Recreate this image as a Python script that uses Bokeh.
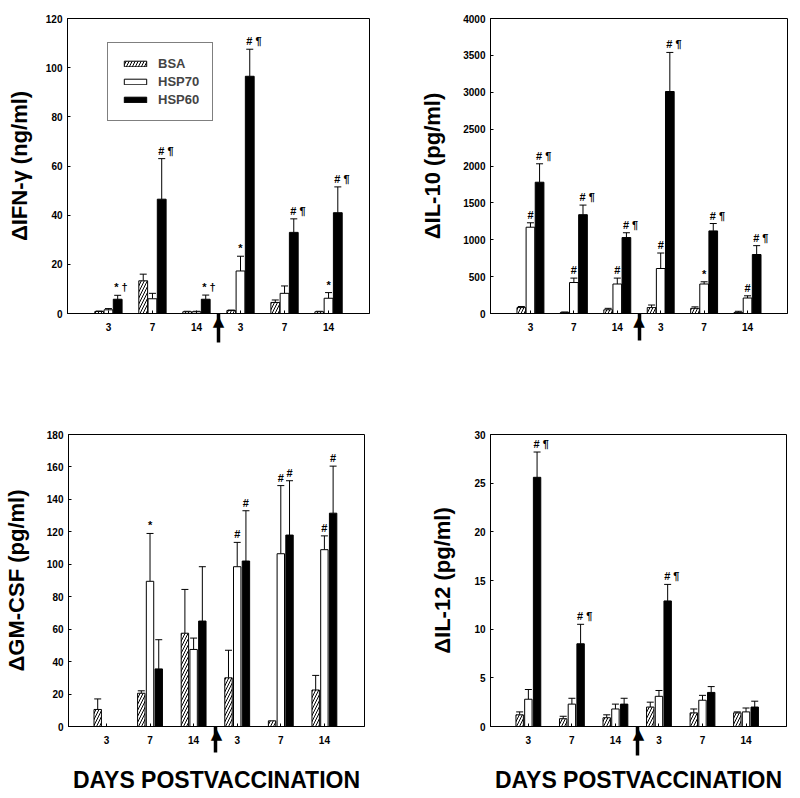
from bokeh.plotting import figure
from bokeh.models import (Range1d, FixedTicker, ColumnDataSource, Whisker, TeeHead,
                          LinearAxis, Legend, LegendItem)
from bokeh.layouts import row, column
from bokeh.embed import file_html
from bokeh.resources import INLINE
from bokeh.core.properties import value

# ---------------- data ----------------
day_labels = ["3", "7", "14", "3", "7", "14"]
series_names = ["BSA", "HSP70", "HSP60"]

ifn_bsa = [0.8, 13.3, 0.7, 1.2, 4.5, 0.7]
ifn_bsa_err = [1.0, 16.0, 0.9, 1.4, 5.5, 0.9]
ifn_hsp70 = [1.5, 6.0, 0.7, 17.3, 8.2, 6.2]
ifn_hsp70_err = [2.0, 8.2, 0.9, 23.3, 11.2, 8.5]
ifn_hsp60 = [5.8, 46.5, 5.8, 96.5, 33.0, 41.0]
ifn_hsp60_err = [7.4, 63.0, 7.5, 107.5, 38.5, 51.5]
ifn_ann_hsp70 = ["", "", "", "*", "", "*"]
ifn_ann_hsp60 = ["* †", "# ¶", "* †", "# ¶", "# ¶", "# ¶"]

il10_bsa = [80, 15, 50, 80, 70, 15]
il10_bsa_err = [95, 20, 70, 115, 90, 30]
il10_hsp70 = [1170, 420, 400, 610, 400, 210]
il10_hsp70_err = [1230, 480, 480, 820, 430, 240]
il10_hsp60 = [1780, 1340, 1030, 3010, 1120, 800]
il10_hsp60_err = [2030, 1470, 1095, 3540, 1220, 920]
il10_ann_hsp70 = ["#", "#", "#", "#", "*", "#"]
il10_ann_hsp60 = ["# ¶", "# ¶", "# ¶", "# ¶", "# ¶", "# ¶"]

gm_bsa = [10.5, 20.5, 57.5, 30.0, 3.5, 22.5]
gm_bsa_err = [17.0, 22.0, 84.5, 47.0, 3.5, 31.5]
gm_hsp70 = [0, 89.5, 47.5, 98.5, 106.5, 109.0]
gm_hsp70_err = [0, 119.0, 54.5, 113.5, 148.5, 117.5]
gm_hsp60 = [0, 35.5, 65.0, 102.0, 118.0, 131.5]
gm_hsp60_err = [0, 53.5, 98.5, 133.0, 151.5, 160.5]
gm_ann_hsp70 = ["", "*", "", "#", "#", "#"]
gm_ann_hsp60 = ["", "", "", "#", "#", "#"]

il12_bsa = [1.2, 0.8, 0.9, 2.0, 1.4, 1.4]
il12_bsa_err = [1.5, 1.05, 1.2, 2.5, 1.8, 1.5]
il12_hsp70 = [2.8, 2.3, 1.8, 3.1, 2.7, 1.5]
il12_hsp70_err = [3.8, 2.9, 2.3, 3.7, 3.2, 1.9]
il12_hsp60 = [25.6, 8.5, 2.3, 12.9, 3.5, 2.0]
il12_hsp60_err = [28.2, 10.5, 2.9, 14.6, 4.1, 2.6]
il12_ann_hsp60 = ["# ¶", "# ¶", "", "# ¶", "", ""]

boost_position = 2.5   # vaccination boost, between day 14 and the second day 3

FONT = "Liberation Sans"


def make_panel(ylabel, ymax, ystep, vals, errs, anns, xr, width, height,
               borders, bar_w, bar_off, ylab_standoff, xlabel=None,
               shaft_px=28, legend=False):
    left, right, top, bottom = borders
    p = figure(width=width, height=height, x_range=Range1d(*xr),
               y_range=Range1d(0, ymax), output_backend="svg",
               toolbar_location=None, min_border_left=left,
               min_border_right=right, min_border_top=top,
               min_border_bottom=bottom)
    p.xgrid.visible = False
    p.ygrid.visible = False
    p.outline_line_color = "black"
    p.outline_line_width = 1
    p.background_fill_color = "white"
    p.border_fill_color = "white"

    xs = list(range(len(day_labels)))
    renderers = []
    styles = [
        dict(fill_color="white", hatch_pattern="/", hatch_color="black",
             hatch_scale=6, hatch_weight=1),
        dict(fill_color="white"),
        dict(fill_color="black"),
    ]
    for k, (v, e, a) in enumerate(zip(vals, errs, anns)):
        off = (k - 1) * bar_off
        bx = [x + off for x in xs]
        src = ColumnDataSource(dict(x=bx, top=v))
        r = p.vbar(x="x", top="top", width=bar_w, bottom=0, source=src,
                   line_color="black", line_width=1, **styles[k])
        renderers.append(r)
        keep = [i for i in range(len(v)) if e[i] > v[i]]
        esrc = ColumnDataSource(dict(base=[bx[i] for i in keep],
                                     lower=[v[i] for i in keep],
                                     upper=[e[i] for i in keep]))
        w = Whisker(source=esrc, base="base", lower="lower", upper="upper",
                    dimension="height", lower_head=None,
                    upper_head=TeeHead(size=7, line_color="black", line_width=1),
                    line_color="black", line_width=1)
        p.add_layout(w)
        if a is not None:
            multi = [i for i in range(len(v)) if a[i] and len(a[i]) > 1]
            single = [i for i in range(len(v)) if a[i] and len(a[i]) == 1]
            p.text(x=[bx[i] for i in multi], y=[max(e[i], v[i]) for i in multi],
                   text=[a[i] for i in multi], text_align="left",
                   text_baseline="bottom", x_offset=-3.5, y_offset=-2,
                   text_font=value(FONT), text_font_style="bold",
                   text_font_size="11px", text_color="black")
            p.text(x=[bx[i] for i in single], y=[max(e[i], v[i]) for i in single],
                   text=[a[i] for i in single], text_align="center",
                   text_baseline="bottom", x_offset=0, y_offset=-2,
                   text_font=value(FONT), text_font_style="bold",
                   text_font_size="11px", text_color="black")

    # axes
    for ax in (p.xaxis[0], p.yaxis[0]):
        ax.axis_line_color = "black"
        ax.major_tick_line_color = "black"
        ax.major_tick_in = 3
        ax.major_tick_out = 0
        ax.minor_tick_line_color = None
        ax.major_label_text_font = FONT
        ax.major_label_text_font_style = "bold"
        ax.major_label_text_font_size = "10px"
        ax.major_label_text_color = "black"
    # x axis: day ticks; the boost arrow = long minor tick (shaft) + ▲ label (head)
    xa = p.xaxis[0]
    xa.ticker = FixedTicker(ticks=xs, minor_ticks=[boost_position])
    xa.major_label_overrides = {i: lab for i, lab in enumerate(day_labels)}
    xa.major_label_standoff = 9 - shaft_px
    xa.minor_tick_line_color = "black"
    xa.minor_tick_line_width = 3.5
    xa.minor_tick_in = 0
    xa.minor_tick_out = shaft_px
    xa.axis_label = "▲"
    xa.axis_label_text_font = "DejaVu Sans"
    xa.axis_label_text_font_size = "15px"
    xa.axis_label_text_color = "black"
    xa.axis_label_standoff = -22

    p.yaxis.ticker = FixedTicker(ticks=list(range(0, ymax + 1, ystep)))
    p.yaxis.major_label_standoff = 5
    p.yaxis.axis_label = ylabel
    p.yaxis.axis_label_text_font = FONT
    p.yaxis.axis_label_text_font_style = "bold"
    p.yaxis.axis_label_text_font_size = "22px"
    p.yaxis.axis_label_text_color = "black"
    p.yaxis.axis_label_standoff = ylab_standoff

    if xlabel:
        xl = LinearAxis(ticker=FixedTicker(ticks=[]), axis_label=xlabel,
                        axis_line_color=None, major_tick_line_color=None,
                        minor_tick_line_color=None, major_tick_out=0,
                        major_tick_in=0, major_label_standoff=0,
                        axis_label_standoff=21,
                        axis_label_text_font=FONT,
                        axis_label_text_font_style="bold",
                        axis_label_text_font_size="23px",
                        axis_label_text_color="black")
        p.add_layout(xl, "below")

    if legend:
        lg = Legend(items=[LegendItem(label=n, renderers=[r])
                           for n, r in zip(series_names, renderers)],
                    location=(40, 192))
        lg.border_line_color = "black"
        lg.border_line_width = 1
        lg.background_fill_alpha = 1
        lg.label_text_font = FONT
        lg.label_text_font_style = "bold"
        lg.label_text_font_size = "13px"
        lg.glyph_width = 28
        lg.glyph_height = 7
        lg.label_height = 15
        lg.spacing = 3
        lg.padding = 13
        lg.margin = 0
        lg.label_standoff = 9
        p.add_layout(lg, "center")
    return p


p1 = make_panel("ΔIFN-γ (ng/ml)", 120, 20,
                [ifn_bsa, ifn_hsp70, ifn_hsp60],
                [ifn_bsa_err, ifn_hsp70_err, ifn_hsp60_err],
                [None, ifn_ann_hsp70, ifn_ann_hsp60],
                (-0.93, 5.93), 408, 386, (67, 39, 16, 73), 0.2, 0.21, 11,
                shaft_px=29, legend=True)
p2 = make_panel("ΔIL-10 (pg/ml)", 4000, 500,
                [il10_bsa, il10_hsp70, il10_hsp60],
                [il10_bsa_err, il10_hsp70_err, il10_hsp60_err],
                [None, il10_ann_hsp70, il10_ann_hsp60],
                (-0.92, 5.92), 390, 386, (82, 11, 18, 71), 0.2, 0.21, 15,
                shaft_px=27)
p3 = make_panel("ΔGM-CSF (pg/ml)", 180, 20,
                [gm_bsa, gm_hsp70, gm_hsp60],
                [gm_bsa_err, gm_hsp70_err, gm_hsp60_err],
                [None, gm_ann_hsp70, gm_ann_hsp60],
                (-0.87, 5.92), 408, 410, (67, 44, 43, 70), 0.17, 0.2, 15,
                xlabel="DAYS POSTVACCINATION", shaft_px=26)
p4 = make_panel("ΔIL-12 (pg/ml)", 30, 5,
                [il12_bsa, il12_hsp70, il12_hsp60],
                [il12_bsa_err, il12_hsp70_err, il12_hsp60_err],
                [None, None, il12_ann_hsp60],
                (-0.87, 5.93), 390, 410, (82, 12, 48, 65), 0.17, 0.2, 16,
                xlabel="DAYS POSTVACCINATION", shaft_px=29)

layout = column(row(p1, p2), row(p3, p4))
open("out.html", "w").write(file_html(layout, INLINE))
